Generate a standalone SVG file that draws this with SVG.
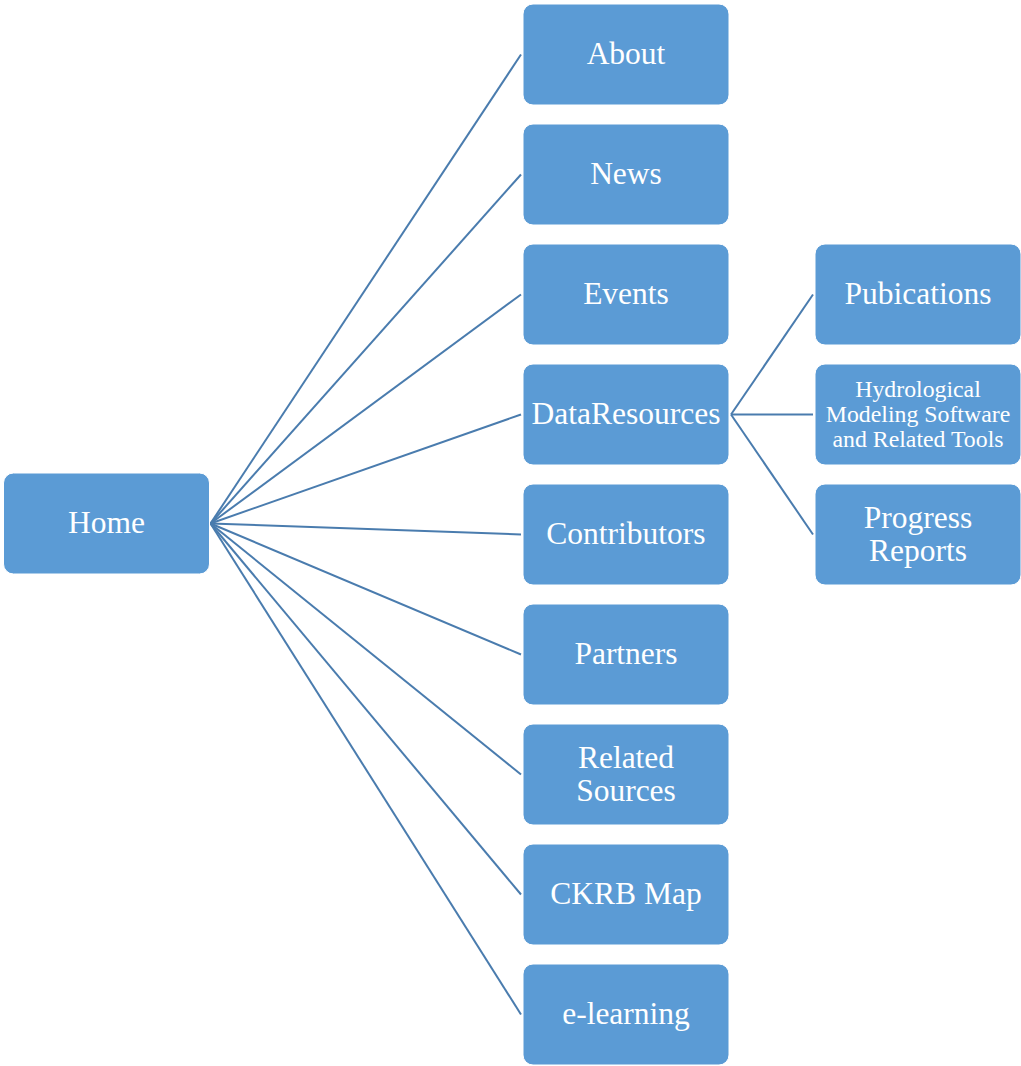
<svg xmlns="http://www.w3.org/2000/svg" width="1021" height="1066" viewBox="0 0 1021 1066">
<style>
.box{fill:#5B9BD5;stroke:#ffffff;stroke-width:1}
.t{font-family:"Liberation Serif","Times New Roman",serif;font-size:31.5px;fill:#ffffff;text-anchor:middle}
.s{font-size:23.8px}
.c{stroke:#4A7CAE;stroke-width:2;fill:none}
</style>
<rect width="1021" height="1066" fill="#ffffff"/>
<g id="connectors" class="c">
<line x1="210.5" y1="523.5" x2="521" y2="54.5"/>
<line x1="210.5" y1="523.5" x2="521" y2="174.5"/>
<line x1="210.5" y1="523.5" x2="521" y2="294.5"/>
<line x1="210.5" y1="523.5" x2="521" y2="414.5"/>
<line x1="210.5" y1="523.5" x2="521" y2="534.5"/>
<line x1="210.5" y1="523.5" x2="521" y2="654.5"/>
<line x1="210.5" y1="523.5" x2="521" y2="774.5"/>
<line x1="210.5" y1="523.5" x2="521" y2="894.5"/>
<line x1="210.5" y1="523.5" x2="521" y2="1014.5"/>
<line x1="731" y1="414.5" x2="813" y2="294.5"/>
<line x1="731" y1="414.5" x2="813" y2="414.5"/>
<line x1="731" y1="414.5" x2="813" y2="534.5"/>
</g>
<g id="home"><rect class="box" x="3.5" y="473" width="206" height="101" rx="10"/><text class="t" x="106.5" y="533">Home</text></g>
<g id="about"><rect class="box" x="523" y="4" width="206" height="101" rx="10"/><text class="t" x="626" y="64">About</text></g>
<g id="news"><rect class="box" x="523" y="124" width="206" height="101" rx="10"/><text class="t" x="626" y="184">News</text></g>
<g id="events"><rect class="box" x="523" y="244" width="206" height="101" rx="10"/><text class="t" x="626" y="304">Events</text></g>
<g id="dataresources"><rect class="box" x="523" y="364" width="206" height="101" rx="10"/><text class="t" x="626" y="424">DataResources</text></g>
<g id="contributors"><rect class="box" x="523" y="484" width="206" height="101" rx="10"/><text class="t" x="626" y="544">Contributors</text></g>
<g id="partners"><rect class="box" x="523" y="604" width="206" height="101" rx="10"/><text class="t" x="626" y="664">Partners</text></g>
<g id="related"><rect class="box" x="523" y="724" width="206" height="101" rx="10"/><text class="t" x="626" y="768">Related</text><text class="t" x="626" y="801">Sources</text></g>
<g id="ckrb"><rect class="box" x="523" y="844" width="206" height="101" rx="10"/><text class="t" x="626" y="904">CKRB Map</text></g>
<g id="elearning"><rect class="box" x="523" y="964" width="206" height="101" rx="10"/><text class="t" x="626" y="1024">e-learning</text></g>
<g id="pubications"><rect class="box" x="815" y="244" width="206" height="101" rx="10"/><text class="t" x="918" y="304">Pubications</text></g>
<g id="hydrological"><rect class="box" x="815" y="364" width="206" height="101" rx="10"/><text class="t s" x="918" y="396.5">Hydrological</text><text class="t s" x="918" y="421.5">Modeling Software</text><text class="t s" x="918" y="446.5">and Related Tools</text></g>
<g id="progress"><rect class="box" x="815" y="484" width="206" height="101" rx="10"/><text class="t" x="918" y="527.5">Progress</text><text class="t" x="918" y="560.5">Reports</text></g>
</svg>
